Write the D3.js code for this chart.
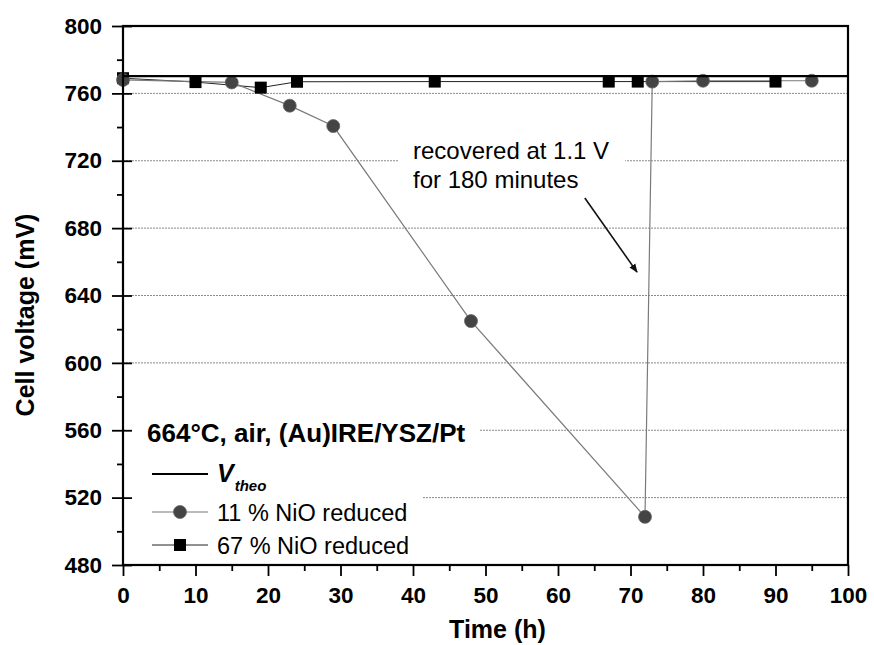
<!DOCTYPE html>
<html>
<head>
<meta charset="utf-8">
<script src="https://cdn.jsdelivr.net/npm/d3@7"></script>
<style>
  body { margin: 0; background: #fff; }
  svg { display: block; font-family: "Liberation Sans", Arial, sans-serif; }
</style>
</head>
<body>
<svg width="874" height="645"></svg>
<script>
// 11 % NiO reduced (circles)
const timeCircle = [0, 15, 23, 29, 48, 72, 73, 80, 95]
const voltCircle = [768, 766.5, 752.7, 740.6, 624.8, 508.6, 767, 767.5, 767.5]
// 67 % NiO reduced (squares)
const timeSquare = [0, 10, 19, 24, 43, 67, 71, 90]
const voltSquare = [769, 766.7, 763.4, 766.9, 767, 767, 767, 767]
const vTheo = 770.3

const xTicks = [0, 10, 20, 30, 40, 50, 60, 70, 80, 90, 100]
const xMinor = [5, 15, 25, 35, 45, 55, 65, 75, 85, 95]
const yTicks = [480, 520, 560, 600, 640, 680, 720, 760, 800]
const yMinor = [500, 540, 580, 620, 660, 700, 740, 780]

const legendTitle = "664\u00B0C, air, (Au)IRE/YSZ/Pt"
const seriesNames = ["11 % NiO reduced", "67 % NiO reduced"]
const noteLines = ["recovered at 1.1 V", "for 180 minutes"]
// arrow in data units: [time, voltage]
const arrowFrom = [63.7, 697.9]
const arrowTo = [70.9, 653.9]

var svg = d3.select("svg"),
    margin = {top: 26, right: 26, bottom: 80, left: 123},
    width = +svg.attr("width") - margin.left - margin.right,
    height = +svg.attr("height") - margin.top - margin.bottom,
    g = svg.append("g").attr("transform", "translate(" + margin.left + "," + margin.top + ")");

var x = d3.scaleLinear().domain([0, 100]).range([0, width]);
var y = d3.scaleLinear().domain([480, 800]).range([height, 0]);

svg.append("defs").append("marker")
    .attr("id", "arrowhead")
    .attr("viewBox", "0 0 10 10")
    .attr("refX", 9).attr("refY", 5)
    .attr("markerWidth", 9).attr("markerHeight", 9)
    .attr("markerUnits", "userSpaceOnUse")
    .attr("orient", "auto")
  .append("path")
    .attr("d", "M0,1 L10,5 L0,9 Z")
    .attr("fill", "#111");

// grid
g.append("g")
  .selectAll("line")
  .data(yTicks.slice(1, -1))
  .enter().append("line")
    .attr("x1", 0).attr("x2", width)
    .attr("y1", d => y(d)).attr("y2", d => y(d))
    .attr("stroke", "#8a8a8a")
    .attr("stroke-width", 1)
    .attr("stroke-dasharray", "2,1");

// white boxes behind legend and note, filled in once the text is measured
var bgLayer = g.append("g");

// series lines
var line = d3.line().x(d => x(d[0])).y(d => y(d[1]));
var sq = d3.zip(timeSquare, voltSquare);
var ci = d3.zip(timeCircle, voltCircle);

g.append("path").datum(sq)
    .attr("d", line).attr("fill", "none")
    .attr("stroke", "#222").attr("stroke-width", 1);
g.append("path").datum(ci)
    .attr("d", line).attr("fill", "none")
    .attr("stroke", "#7a7a7a").attr("stroke-width", 1.2);

const sqSize = 12, ciR = 6.5;
g.append("g").selectAll("rect")
  .data(sq)
  .enter().append("rect")
    .attr("x", d => x(d[0]) - sqSize / 2)
    .attr("y", d => y(d[1]) - sqSize / 2)
    .attr("width", sqSize).attr("height", sqSize)
    .attr("fill", "#000");
g.append("g").selectAll("circle")
  .data(ci)
  .enter().append("circle")
    .attr("cx", d => x(d[0])).attr("cy", d => y(d[1]))
    .attr("r", ciR)
    .attr("fill", "#444")
    .attr("stroke", "#666").attr("stroke-width", 0.8);

// V theo
g.append("line")
    .attr("x1", 0).attr("x2", width)
    .attr("y1", y(vTheo)).attr("y2", y(vTheo))
    .attr("stroke", "#000").attr("stroke-width", 2.2);

// axes
var xAxis = g.append("g")
    .attr("transform", "translate(0," + height + ")")
    .call(d3.axisBottom(x).tickValues(xTicks).tickSize(11).tickPadding(11));
g.append("g")
    .attr("transform", "translate(0," + height + ")")
    .call(d3.axisBottom(x).tickValues(xMinor).tickSize(6).tickFormat(""))
    .call(a => a.select(".domain").remove());

var yAxis = g.append("g")
    .call(d3.axisLeft(y).tickValues(yTicks).tickSize(11).tickPadding(10));
yAxis.selectAll(".tick line").attr("x1", 9);
g.append("g")
    .call(d3.axisLeft(y).tickValues(yMinor).tickSize(6).tickFormat(""))
    .call(a => a.select(".domain").remove());

[xAxis, yAxis].forEach(a => {
  a.select(".domain").remove();
  a.selectAll("text")
    .attr("font-family", "Liberation Sans, Arial, sans-serif")
    .attr("font-size", 22.5).attr("font-weight", "bold").attr("fill", "#000");
});
g.selectAll(".tick line").attr("stroke", "#000").attr("stroke-width", 1.8);

// frame
g.append("rect")
    .attr("width", width).attr("height", height)
    .attr("fill", "none").attr("stroke", "#000").attr("stroke-width", 2.2);

// axis titles
svg.append("text")
    .attr("x", margin.left + width / 2 + 12)
    .attr("y", 638)
    .attr("text-anchor", "middle")
    .attr("font-size", 25).attr("font-weight", "bold")
    .text("Time (h)");
svg.append("text")
    .attr("transform", "translate(34," + 315 + ") rotate(-90)")
    .attr("text-anchor", "middle")
    .attr("font-size", 25).attr("font-weight", "bold")
    .text("Cell voltage (mV)");

// legend
var legend = g.append("g");
var title = legend.append("text")
    .attr("x", 24).attr("y", y(560) + 12)
    .attr("font-size", 26).attr("font-weight", "bold")
    .text(legendTitle);
var tb = title.node().getBBox();
bgLayer.append("rect")
    .attr("x", 2).attr("y", tb.y - 2)
    .attr("width", tb.x + tb.width + 12).attr("height", tb.height + 4)
    .attr("fill", "#fff");

const legX0 = 29, legX1 = 85, legTx = 94;
const rowsY = [474 - margin.top, 512 - margin.top, 545 - margin.top];
bgLayer.append("rect")
    .attr("x", 2).attr("y", tb.y + tb.height + 2)
    .attr("width", 298).attr("height", height - (tb.y + tb.height + 2) - 2)
    .attr("fill", "#fff");

legend.append("line")
    .attr("x1", legX0).attr("x2", legX1)
    .attr("y1", rowsY[0]).attr("y2", rowsY[0])
    .attr("stroke", "#000").attr("stroke-width", 2.2);
var vt = legend.append("text")
    .attr("x", legTx).attr("y", rowsY[0] + 8)
    .attr("font-size", 25).attr("font-weight", "bold").attr("font-style", "italic");
vt.append("tspan").text("V");
vt.append("tspan").attr("font-size", 15).attr("dy", 9).attr("dx", 1).text("theo");

legend.append("line")
    .attr("x1", legX0).attr("x2", legX1)
    .attr("y1", rowsY[1]).attr("y2", rowsY[1])
    .attr("stroke", "#7a7a7a").attr("stroke-width", 1.2);
legend.append("circle")
    .attr("cx", (legX0 + legX1) / 2).attr("cy", rowsY[1]).attr("r", ciR)
    .attr("fill", "#444").attr("stroke", "#666").attr("stroke-width", 0.8);
legend.append("line")
    .attr("x1", legX0).attr("x2", legX1)
    .attr("y1", rowsY[2]).attr("y2", rowsY[2])
    .attr("stroke", "#222").attr("stroke-width", 1);
legend.append("rect")
    .attr("x", (legX0 + legX1) / 2 - sqSize / 2).attr("y", rowsY[2] - sqSize / 2)
    .attr("width", sqSize).attr("height", sqSize).attr("fill", "#000");

legend.selectAll(".entry")
  .data(seriesNames)
  .enter().append("text")
    .attr("class", "entry")
    .attr("x", legTx).attr("y", (d, i) => rowsY[i + 1] + 8.5)
    .attr("font-size", 23.5)
    .text(d => d);

// annotation
var note = g.append("g");
var nt = note.append("text")
    .attr("font-size", 24);
nt.selectAll("tspan")
  .data(noteLines)
  .enter().append("tspan")
    .attr("x", 413 - margin.left)
    .attr("y", (d, i) => 159 - margin.top + i * 29)
    .text(d => d);
var nb = nt.node().getBBox();
bgLayer.append("rect")
    .attr("x", nb.x - 14).attr("y", nb.y + 2)
    .attr("width", nb.width + 30).attr("height", nb.height - 4)
    .attr("fill", "#fff");
note.append("line")
    .attr("x1", x(arrowFrom[0])).attr("y1", y(arrowFrom[1]))
    .attr("x2", x(arrowTo[0])).attr("y2", y(arrowTo[1]))
    .attr("stroke", "#111").attr("stroke-width", 1.6)
    .attr("marker-end", "url(#arrowhead)");
</script>
</body>
</html>
